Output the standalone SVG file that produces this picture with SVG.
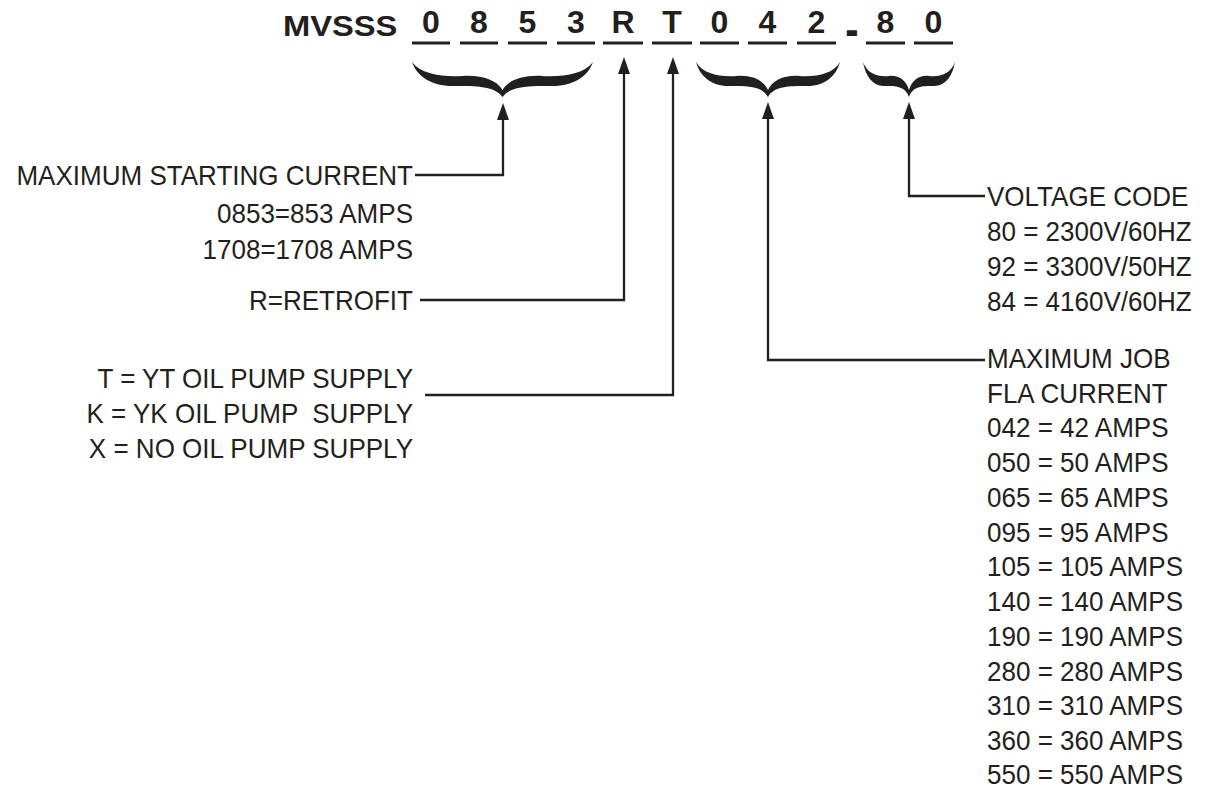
<svg xmlns="http://www.w3.org/2000/svg" width="1209" height="788" viewBox="0 0 1209 788">
<style>
.t{font-family:"Liberation Sans",Arial,sans-serif;font-size:28px;fill:#231f20}
.e{text-anchor:end}
.b{font-family:"Liberation Sans",Arial,sans-serif;font-weight:bold;font-size:32px;fill:#231f20}
.c{text-anchor:middle}
.u{stroke:#231f20;stroke-width:3;fill:none}
.ln{stroke:#231f20;stroke-width:2.3;fill:none;marker-end:url(#ah)}
.br{fill:#231f20}
</style>
<defs>
<marker id="ah" markerUnits="userSpaceOnUse" viewBox="0 0 17 12" refX="9" refY="6" markerWidth="17" markerHeight="12" orient="auto">
<path d="M0,0 L17,6 L0,12 Z" fill="#231f20"/>
</marker>
<path id="brace" d="M-50,0 C-47.3,14 -39.6,24 -27.5,24 C-13.7,24 -4.4,24 0,35 C4.4,24 13.7,24 27.5,24 C39.6,24 47.3,14 50,0 C45,12 34,15 22,14 C11,13 3.3,18 0,28 C-3.3,18 -11,13 -22,14 C-34,15 -45,12 -50,0 Z"/>
</defs>
<rect width="1209" height="788" fill="#ffffff"/>

<g id="title">
<text class="b" transform="scale(1.09,1)" x="259.6" y="36" style="font-size:30px">MVSSS</text>
<text class="b c" x="431" y="33">0</text>
<text class="b c" x="479" y="33">8</text>
<text class="b c" x="527.5" y="33">5</text>
<text class="b c" x="576" y="33">3</text>
<text class="b c" x="623" y="33">R</text>
<text class="b c" x="672" y="33">T</text>
<text class="b c" x="719.5" y="33">0</text>
<text class="b c" x="767.5" y="33">4</text>
<text class="b c" x="816.5" y="33">2</text>
<text class="b c" transform="translate(852,46) scale(1.25,1.5)" x="0" y="0">-</text>
<text class="b c" x="885.5" y="33">8</text>
<text class="b c" x="933.5" y="33">0</text>
<path class="u" d="M412,43H450M460,43H498M508,43H547M557,43H595M603,43H643M652,43H692M700,43H739M748,43H787M797,43H836M866,43H905M914,43H953"/>
</g>

<g id="braces">
<use href="#brace" class="br" transform="translate(502.5,62) scale(1.81,1)"/>
<use href="#brace" class="br" transform="translate(768,62) scale(1.44,1)"/>
<use href="#brace" class="br" transform="translate(909,62) scale(0.92,1)"/>
</g>

<g id="starting-current" transform="scale(0.93,1)">
<text class="t e" x="444.1" y="185">MAXIMUM STARTING CURRENT</text>
<text class="t e" x="444.1" y="223">0853=853 AMPS</text>
<text class="t e" x="444.1" y="259">1708=1708 AMPS</text>
</g>
<g id="retrofit" transform="scale(0.93,1)">
<text class="t e" x="444.1" y="310">R=RETROFIT</text>
</g>
<g id="oil-pump" transform="scale(0.93,1)">
<text class="t e" x="444.1" y="388">T = YT OIL PUMP SUPPLY</text>
<text class="t e" x="444.1" y="423" xml:space="preserve">K = YK OIL PUMP  SUPPLY</text>
<text class="t e" x="444.1" y="458">X = NO OIL PUMP SUPPLY</text>
</g>
<g id="voltage-code" transform="scale(0.93,1)">
<text class="t" x="1061.3" y="206">VOLTAGE CODE</text>
<text class="t" x="1061.3" y="241">80 = 2300V/60HZ</text>
<text class="t" x="1061.3" y="276">92 = 3300V/50HZ</text>
<text class="t" x="1061.3" y="311">84 = 4160V/60HZ</text>
</g>
<g id="fla-current" transform="scale(0.93,1)">
<text class="t" x="1061.3" y="368">MAXIMUM JOB</text>
<text class="t" x="1061.3" y="402.75">FLA CURRENT</text>
<text class="t" x="1061.3" y="437.5">042 = 42 AMPS</text>
<text class="t" x="1061.3" y="472.25">050 = 50 AMPS</text>
<text class="t" x="1061.3" y="507">065 = 65 AMPS</text>
<text class="t" x="1061.3" y="541.75">095 = 95 AMPS</text>
<text class="t" x="1061.3" y="576.5">105 = 105 AMPS</text>
<text class="t" x="1061.3" y="611.25">140 = 140 AMPS</text>
<text class="t" x="1061.3" y="646">190 = 190 AMPS</text>
<text class="t" x="1061.3" y="680.75">280 = 280 AMPS</text>
<text class="t" x="1061.3" y="715.5">310 = 310 AMPS</text>
<text class="t" x="1061.3" y="750.25">360 = 360 AMPS</text>
<text class="t" x="1061.3" y="784">550 = 550 AMPS</text>
</g>

<g id="connectors">
<path class="ln" d="M415,175H503V111"/>
<path class="ln" d="M420,300H624V65"/>
<path class="ln" d="M425,395H673V65"/>
<path class="ln" d="M985,196H909V110"/>
<path class="ln" d="M985,360H768V110"/>
</g>
</svg>
